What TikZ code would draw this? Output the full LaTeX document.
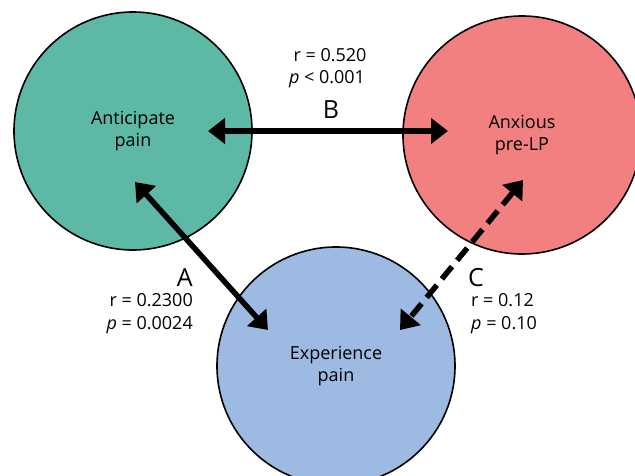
\documentclass[tikz,border=0pt]{standalone}
\usepackage{fontspec}
\setmainfont{Open Sans}
\usetikzlibrary{arrows.meta}
\definecolor{cgreen}{HTML}{5DB8A6}
\definecolor{cred}{HTML}{F28080}
\definecolor{cblue}{HTML}{9CBAE2}
\begin{document}
\begin{tikzpicture}[x=1pt,y=-1pt,
  circ/.style={circle,draw=black,line width=1.6pt,minimum size=238pt,inner sep=0pt,align=center,font=\fontsize{18}{22}\selectfont},
  conn/.style={line width=5.5pt,{Triangle[length=17pt,width=25pt]}-{Triangle[length=17pt,width=25pt]}},
  dconn/.style={conn,dash pattern=on 16pt off 8pt},
  stat/.style={font=\fontsize{18}{23}\selectfont,inner sep=0pt},
  big/.style={font=\fontsize{25}{25}\selectfont,inner sep=0pt}]
\clip (0,0) rectangle (635,476);
\fill[white] (0,0) rectangle (635,476);
\node[circ,fill=cgreen] (ant) at (133,131) {Anticipate\\pain};
\node[circ,fill=cred] (anx) at (522,135) {Anxious\\pre-LP};
\node[circ,fill=cblue] (exp) at (336,366) {Experience\\pain};
\draw[conn] ([shift={(75,0)}]ant.center) -- ([shift={(-74,-4)}]anx.center);
\draw[conn] ([shift={(2,51)}]ant.center) -- ([shift={(-68,-36)}]exp.center);
\draw[dconn] ([shift={(1,45)}]anx.center) -- ([shift={(64,-36)}]exp.center);
\node[stat,anchor=base] (br) at (330,61.5) {r = 0.520};
\node[stat,anchor=base] (bp) at (327,83.5) {\textit{p} < 0.001};
\node[big,anchor=base] (blab) at (331,119) {B};
\node[big,anchor=base east] (alab) at (193,286) {A};
\node[stat,anchor=base east] (ar) at (193,306.5) {r = 0.2300};
\node[stat,anchor=base east] (ap) at (193,329.5) {\textit{p} = 0.0024};
\node[big,anchor=base west] (clab) at (468,286) {C};
\node[stat,anchor=base west] (cr) at (471,306.5) {r = 0.12};
\node[stat,anchor=base west] (cp) at (471,329.5) {\textit{p} = 0.10};
\end{tikzpicture}
\end{document}
